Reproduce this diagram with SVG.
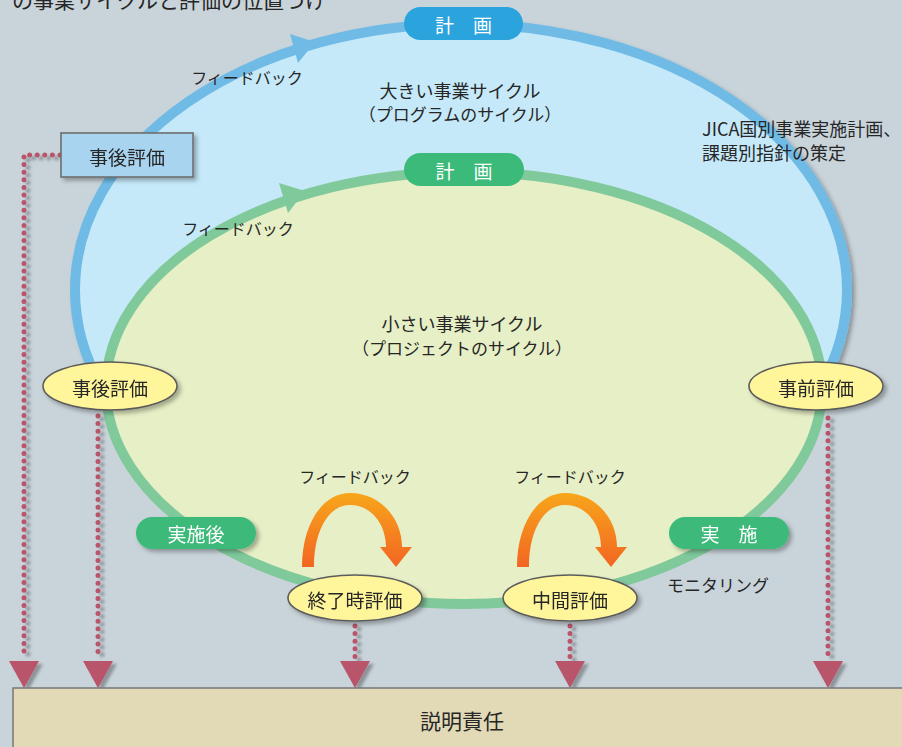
<svg xmlns="http://www.w3.org/2000/svg" width="902" height="747" viewBox="0 0 902 747">
<defs>
<style>
.t{font-family:"Noto Sans CJK JP","Noto Sans",sans-serif;fill:#262626;dominant-baseline:central;text-anchor:middle}
.w{fill:#ffffff}
.pillb{fill:#2ba3dd}
.pillg{fill:#3cba7a}
.yel{fill:#fff59b;stroke:#5c5c5c;stroke-width:1.6}
.dot{fill:none;stroke:#b9546b;stroke-width:5;stroke-linecap:round;stroke-dasharray:0 7.6}
.tri{fill:#b9546b}
</style>
<filter id="sh" filterUnits="userSpaceOnUse" x="0" y="0" width="902" height="747">
<feDropShadow dx="3" dy="3" stdDeviation="2" flood-color="#000" flood-opacity="0.3"/>
</filter>
<filter id="shl" filterUnits="userSpaceOnUse" x="0" y="0" width="902" height="747">
<feDropShadow dx="4" dy="3" stdDeviation="1.5" flood-color="#000" flood-opacity="0.3"/>
</filter>
<linearGradient id="og" x1="0" y1="0" x2="0" y2="1">
<stop offset="0" stop-color="#f8a61b"/>
<stop offset="1" stop-color="#f26522"/>
</linearGradient>
</defs>
<rect x="0" y="0" width="902" height="747" fill="#c9d4da"/>
<text class="t" x="12" y="-1" font-size="21" style="text-anchor:start">の事業サイクルと評価の位置づけ</text>

<g id="cycle-large">
<ellipse cx="461" cy="290" rx="386" ry="266" fill="#c5e9f9" stroke="#6fbbe6" stroke-width="10" filter="url(#sh)"/>
<path d="M290,34 L298,63 L315,42 Z" fill="#6fbbe6"/>
</g>
<g id="cycle-small">
<ellipse cx="464" cy="388" rx="358" ry="216" fill="#e6efc5" stroke="#80c99b" stroke-width="10"/>
<path d="M279,183 L288,213 L305,191 Z" fill="#80c99b"/>
</g>

<g id="label-large">
<text class="t" x="460" y="90" font-size="18">大きい事業サイクル</text>
<text class="t" x="460" y="113" font-size="17">（プログラムのサイクル）</text>
</g>
<g id="label-small">
<text class="t" x="462" y="323" font-size="18">小さい事業サイクル</text>
<text class="t" x="462" y="347" font-size="17">（プロジェクトのサイクル）</text>
</g>
<g id="label-jica">
<text class="t" x="702" y="128" font-size="18" style="text-anchor:start">JICA国別事業実施計画、</text>
<text class="t" x="702" y="152" font-size="18" style="text-anchor:start">課題別指針の策定</text>
</g>
<g id="fb-large"><text class="t" x="247" y="77" font-size="16">フィードバック</text></g>
<g id="fb-small"><text class="t" x="238" y="228" font-size="16">フィードバック</text></g>
<g id="fb-end"><text class="t" x="355" y="476" font-size="16">フィードバック</text></g>
<g id="fb-mid"><text class="t" x="570" y="476" font-size="16">フィードバック</text></g>
<g id="monitoring"><text class="t" x="718" y="584" font-size="17">モニタリング</text></g>

<g id="connectors">
<g filter="url(#shl)">
<path class="dot" d="M60,155 H24 V658"/>
<path class="dot" d="M98,416 V658"/>
<path class="dot" d="M355,626 V658"/>
<path class="dot" d="M570,626 V658"/>
<path class="dot" d="M828,418 V658"/>
<path class="tri" d="M9,661 L39,661 L24,688 Z"/>
<path class="tri" d="M83,661 L113,661 L98,688 Z"/>
<path class="tri" d="M340,661 L370,661 L355,688 Z"/>
<path class="tri" d="M555,661 L585,661 L570,688 Z"/>
<path class="tri" d="M813,661 L843,661 L828,688 Z"/>
</g>
<path id="fb-arrow-end" d="M302,567 C302,525 322,493 350,493 C380,493 402,518 402,547 L412,547 L396,567 L380,547 L386,547 C386,524 371,505 350,505 C329,505 314,530 314,567 Z" fill="url(#og)"/>
<path id="fb-arrow-mid" transform="translate(215,0)" d="M302,567 C302,525 322,493 350,493 C380,493 402,518 402,547 L412,547 L396,567 L380,547 L386,547 C386,524 371,505 350,505 C329,505 314,530 314,567 Z" fill="url(#og)"/>
</g>

<g id="plan-large">
<rect class="pillb" x="404" y="7" width="119" height="33" rx="16.5"/>
<text class="t w" x="463.5" y="24" font-size="19">計　画</text>
</g>
<g id="plan-small">
<rect class="pillg" x="404" y="153" width="120" height="33" rx="16.5"/>
<text class="t w" x="464" y="170" font-size="19">計　画</text>
</g>
<g id="after" filter="url(#sh)">
<rect class="pillg" x="136" y="517" width="120" height="32" rx="16"/>
<text class="t w" x="196" y="533.5" font-size="19">実施後</text>
</g>
<g id="implement" filter="url(#sh)">
<rect class="pillg" x="669" y="517" width="120" height="32" rx="16"/>
<text class="t w" x="729" y="533.5" font-size="19">実　施</text>
</g>

<g id="ex-post-box" filter="url(#sh)">
<rect x="61" y="133" width="132" height="44" fill="#a8d4f0" stroke="#6d6d6d" stroke-width="1.6"/>
<text class="t" x="127" y="156" font-size="19">事後評価</text>
</g>
<g id="ex-post" filter="url(#sh)">
<ellipse class="yel" cx="110" cy="386" rx="67" ry="24"/>
<text class="t" x="110" y="387" font-size="19">事後評価</text>
</g>
<g id="ex-ante" filter="url(#sh)">
<ellipse class="yel" cx="816" cy="386" rx="67" ry="24"/>
<text class="t" x="816" y="387" font-size="19">事前評価</text>
</g>
<g id="terminal" filter="url(#sh)">
<ellipse class="yel" cx="355" cy="598" rx="67" ry="23"/>
<text class="t" x="355" y="599" font-size="19">終了時評価</text>
</g>
<g id="midterm" filter="url(#sh)">
<ellipse class="yel" cx="570" cy="598" rx="67" ry="23"/>
<text class="t" x="570" y="599" font-size="19">中間評価</text>
</g>

<g id="accountability">
<rect x="13" y="688" width="900" height="70" fill="#e2d9b7" stroke="#777777" stroke-width="1.5"/>
<text class="t" x="462" y="720" font-size="21">説明責任</text>
</g>
</svg>
